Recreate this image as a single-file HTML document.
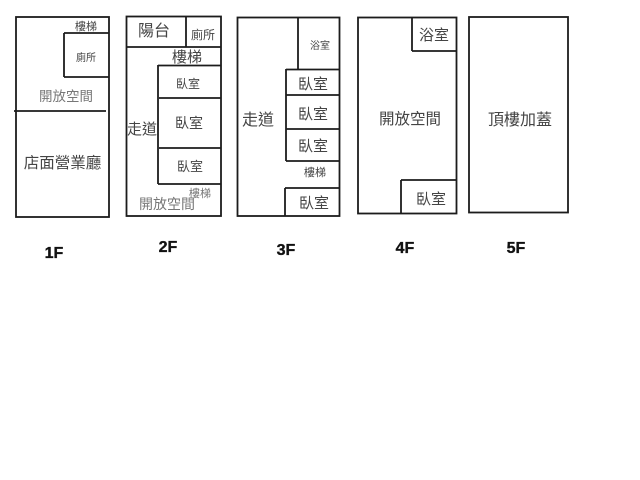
<!DOCTYPE html>
<html>
<head>
<meta charset="utf-8">
<style>
html,body{margin:0;padding:0;background:#fff;width:640px;height:480px;overflow:hidden}
svg{display:block}
text{font-family:"WenQuanYi Zen Hei","Noto Sans CJK TC",sans-serif;fill:#444;text-anchor:middle}
.b{font-family:"Liberation Sans",sans-serif;font-weight:bold;fill:#111;font-size:16px;stroke:#111;stroke-width:.35}
.g{fill:#777}
line,rect{stroke:#1c1c1c;stroke-width:1.8;fill:none}
</style>
</head>
<body>
<svg width="640" height="480" viewBox="0 0 640 480">
<!-- 1F -->
<rect x="16" y="17" width="93" height="200"/>
<line x1="64" y1="33" x2="109" y2="33"/>
<line x1="64" y1="33" x2="64" y2="77"/>
<line x1="64" y1="77" x2="109" y2="77"/>
<line x1="14" y1="111" x2="106" y2="111"/>
<text x="86" y="30" font-size="11">樓梯</text>
<text x="86" y="61" font-size="10">廁所</text>
<text x="66" y="101" font-size="13.500" class="g">開放空間</text>
<text x="62.500" y="168" font-size="15.500">店面營業廳</text>
<text x="54" y="258" class="b">1F</text>
<!-- 2F -->
<rect x="126.500" y="16.500" width="94.500" height="199.500"/>
<line x1="126" y1="47" x2="221" y2="47"/>
<line x1="186" y1="16" x2="186" y2="47"/>
<line x1="158" y1="65.500" x2="221" y2="65.500"/>
<line x1="158" y1="65" x2="158" y2="184"/>
<line x1="159" y1="98" x2="221" y2="98"/>
<line x1="159" y1="148" x2="221" y2="148"/>
<line x1="158" y1="184" x2="221" y2="184"/>
<text x="154" y="36" font-size="16">陽台</text>
<text x="203" y="39" font-size="12">廁所</text>
<text x="187" y="62" font-size="15">樓梯</text>
<text x="188" y="88" font-size="12">臥室</text>
<text x="189" y="128" font-size="14">臥室</text>
<text x="190" y="171" font-size="13">臥室</text>
<text x="200" y="197" font-size="11" class="g">樓梯</text>
<text x="167" y="209" font-size="14" class="g">開放空間</text>
<text x="142" y="134" font-size="15">走道</text>
<text x="168" y="252" class="b">2F</text>
<!-- 3F -->
<rect x="237.500" y="17.500" width="102" height="198.500"/>
<line x1="298" y1="17" x2="298" y2="69"/>
<line x1="286" y1="69.500" x2="340" y2="69.500"/>
<line x1="286" y1="69" x2="286" y2="161"/>
<line x1="286" y1="95" x2="340" y2="95"/>
<line x1="286" y1="129" x2="340" y2="129"/>
<line x1="286" y1="161" x2="340" y2="161"/>
<line x1="285" y1="188" x2="340" y2="188"/>
<line x1="285" y1="188" x2="285" y2="216"/>
<text x="320" y="49" font-size="10">浴室</text>
<text x="313" y="89" font-size="15">臥室</text>
<text x="313" y="119" font-size="15">臥室</text>
<text x="313" y="151" font-size="15">臥室</text>
<text x="315" y="176" font-size="11">樓梯</text>
<text x="314" y="208" font-size="15">臥室</text>
<text x="258" y="125" font-size="16">走道</text>
<text x="286" y="255" class="b">3F</text>
<!-- 4F -->
<rect x="358" y="17.500" width="98.500" height="196"/>
<line x1="412" y1="17" x2="412" y2="51"/>
<line x1="412" y1="51" x2="457" y2="51"/>
<line x1="401" y1="180" x2="457" y2="180"/>
<line x1="401" y1="180" x2="401" y2="213"/>
<text x="434" y="40" font-size="15">浴室</text>
<text x="410" y="124" font-size="15.500">開放空間</text>
<text x="431" y="204" font-size="15">臥室</text>
<text x="405" y="253" class="b">4F</text>
<!-- 5F -->
<rect x="469" y="17" width="99" height="195.500"/>
<text x="520" y="125" font-size="16">頂樓加蓋</text>
<text x="516" y="253" class="b">5F</text>
</svg>
</body>
</html>
